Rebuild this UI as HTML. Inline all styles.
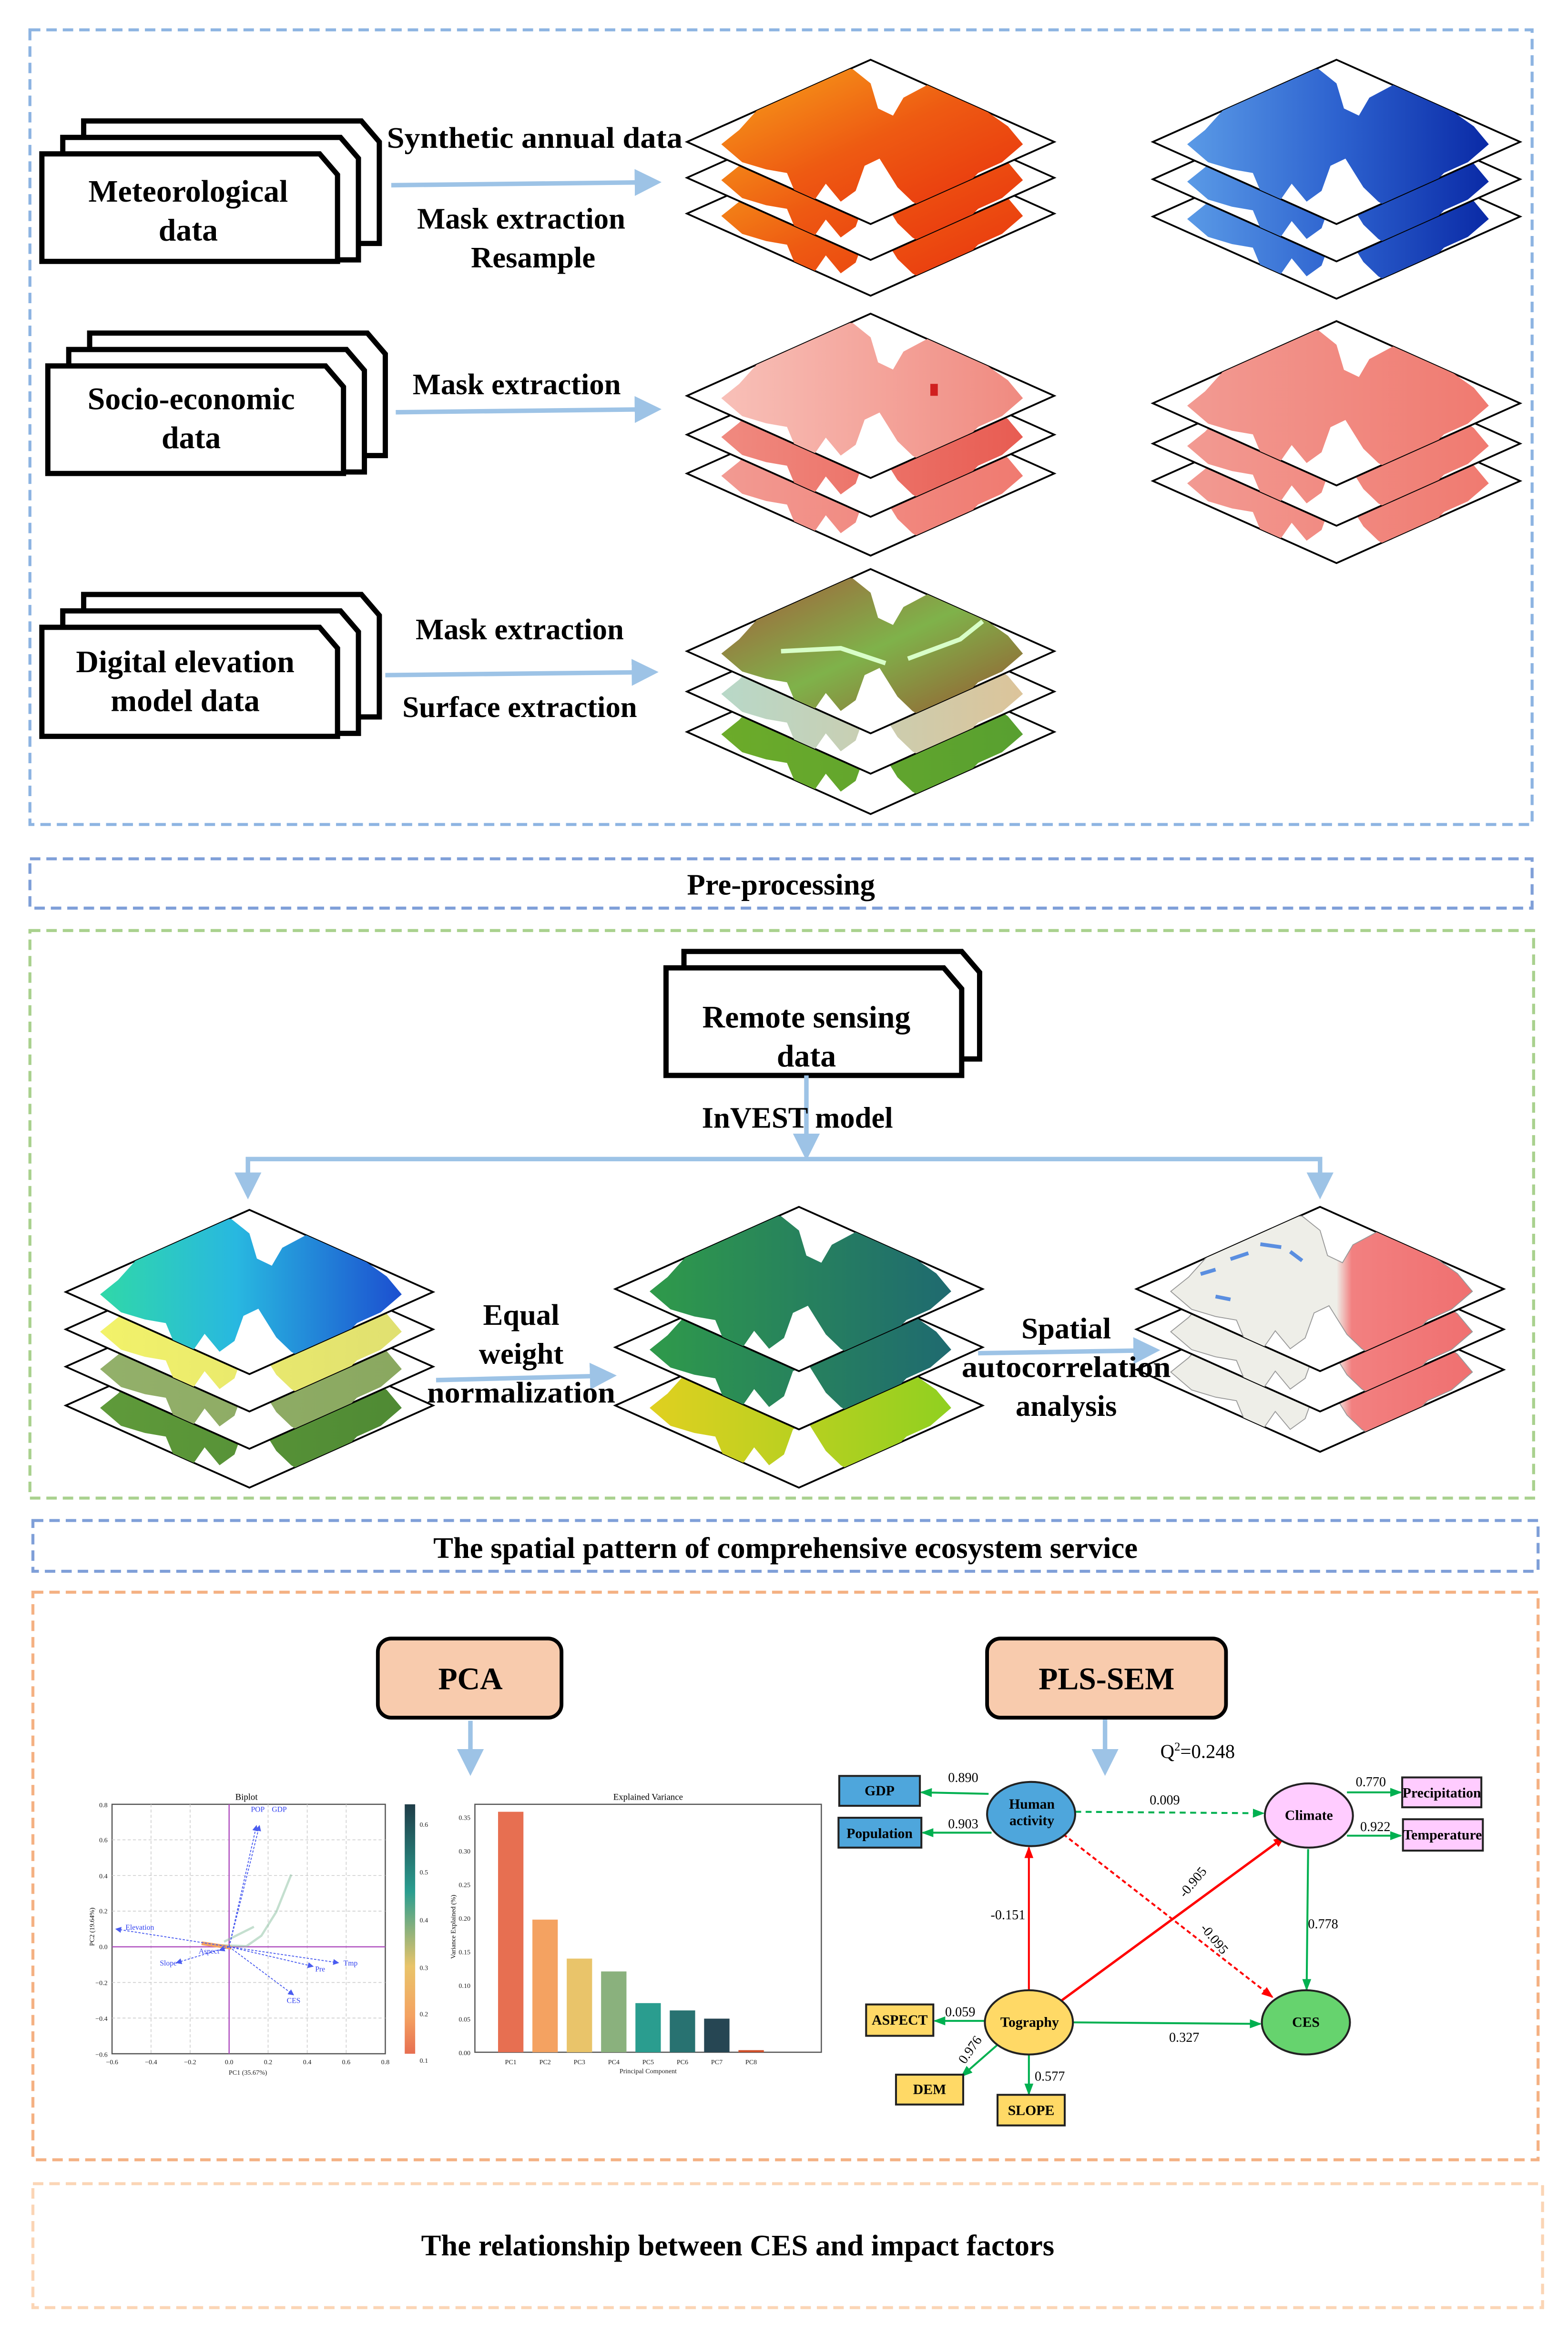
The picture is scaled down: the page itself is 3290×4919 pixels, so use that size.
<!DOCTYPE html>
<html><head><meta charset="utf-8"><style>
html,body{margin:0;padding:0;background:#fff}
svg{display:block}
text{font-family:"Liberation Serif",serif}
.b{font-weight:bold}
</style></head><body>
<svg width="3290" height="4919" viewBox="0 0 1050 1570" xmlns="http://www.w3.org/2000/svg">
<defs>
<clipPath id="dc"><polygon points="0,-55 123,0 0,55 -123,0"/></clipPath>
<path id="blob" d="M-100,1.6 L-88,-8 L-75,-22.4 L-58,-32 L-45,-39.2 L-30,-48.8 L-12,-48.8 L0,-39.2 L5,-22.4 L15,-17.6 L22,-29.6 L40,-39.2 L60,-32 L75,-22.4 L92,-10.4 L102,1.6 L88,13.6 L72,20.8 L58,35.2 L40,47.2 L28,40 L18,30.4 L6,11.2 L-4,16 L-10,32.8 L-20,40 L-30,28 L-40,42.4 L-50,35.2 L-56,20.8 L-70,18.4 L-86,13.6 Z"/>
<linearGradient id="gOr" x1="0" y1="0" x2="1" y2="1"><stop offset="0" stop-color="#f7a21a"/><stop offset="0.5" stop-color="#ee5a12"/><stop offset="1" stop-color="#e8300e"/></linearGradient>
<linearGradient id="gBl" x1="0" y1="0" x2="1" y2="0"><stop offset="0" stop-color="#5a9ae6"/><stop offset="0.5" stop-color="#2d62cf"/><stop offset="1" stop-color="#0a2aa6"/></linearGradient>
<linearGradient id="gPk1" x1="0" y1="0" x2="1" y2="0"><stop offset="0" stop-color="#f8c0b8"/><stop offset="1" stop-color="#f08a80"/></linearGradient>
<linearGradient id="gPk2" x1="0" y1="0" x2="1" y2="0"><stop offset="0" stop-color="#f08a80"/><stop offset="1" stop-color="#e85c52"/></linearGradient>
<linearGradient id="gPk3" x1="0" y1="0" x2="1" y2="0"><stop offset="0" stop-color="#f29a92"/><stop offset="1" stop-color="#f07a70"/></linearGradient>
<linearGradient id="gBr" x1="0" y1="0" x2="1" y2="1"><stop offset="0" stop-color="#a55a3a"/><stop offset="0.5" stop-color="#7fb24a"/><stop offset="1" stop-color="#9a5230"/></linearGradient>
<linearGradient id="gBe" x1="0" y1="0" x2="1" y2="0"><stop offset="0" stop-color="#b8d8c8"/><stop offset="1" stop-color="#dcc49a"/></linearGradient>
<linearGradient id="gGr" x1="0" y1="0" x2="1" y2="0"><stop offset="0" stop-color="#6cab2a"/><stop offset="1" stop-color="#58a030"/></linearGradient>
<linearGradient id="gCy" x1="0" y1="0" x2="1" y2="0"><stop offset="0" stop-color="#30d8a8"/><stop offset="0.45" stop-color="#28b8e0"/><stop offset="1" stop-color="#1c4fd0"/></linearGradient>
<linearGradient id="gYe" x1="0" y1="0" x2="1" y2="0"><stop offset="0" stop-color="#f2f26a"/><stop offset="1" stop-color="#e0e070"/></linearGradient>
<linearGradient id="gOl" x1="0" y1="0" x2="1" y2="0"><stop offset="0" stop-color="#93b06a"/><stop offset="1" stop-color="#8aa860"/></linearGradient>
<linearGradient id="gDg" x1="0" y1="0" x2="1" y2="0"><stop offset="0" stop-color="#5f9a3a"/><stop offset="1" stop-color="#4f8a34"/></linearGradient>
<linearGradient id="gTe" x1="0" y1="0" x2="1" y2="0"><stop offset="0" stop-color="#2f9a4a"/><stop offset="1" stop-color="#1f6a70"/></linearGradient>
<linearGradient id="gLy" x1="0" y1="0" x2="1" y2="0"><stop offset="0" stop-color="#e0d020"/><stop offset="1" stop-color="#90d020"/></linearGradient>
<linearGradient id="gLg" x1="0" y1="0" x2="1" y2="0"><stop offset="0" stop-color="#eeeee8"/><stop offset="0.55" stop-color="#eeeee8"/><stop offset="0.6" stop-color="#f28080"/><stop offset="1" stop-color="#f07070"/></linearGradient>
<linearGradient id="gCb" x1="0" y1="0" x2="0" y2="1"><stop offset="0" stop-color="#1f3d48"/><stop offset="0.35" stop-color="#2a9d8f"/><stop offset="0.65" stop-color="#e9c46a"/><stop offset="0.85" stop-color="#f4a261"/><stop offset="1" stop-color="#e76f51"/></linearGradient>
<marker id="ab" markerWidth="6" markerHeight="6" refX="5" refY="3" orient="auto" markerUnits="strokeWidth"><path d="M0,0 L6,3 L0,6 Z" fill="#9dc3e6"/></marker>
<marker id="ag" markerWidth="8" markerHeight="8" refX="7" refY="4" orient="auto" markerUnits="userSpaceOnUse"><path d="M0,1 L8,4 L0,7 Z" fill="#00b050"/></marker>
<marker id="ar" markerWidth="8" markerHeight="8" refX="7" refY="4" orient="auto" markerUnits="userSpaceOnUse"><path d="M0,1 L8,4 L0,7 Z" fill="#ff0000"/></marker>
<marker id="ap" markerWidth="4" markerHeight="4" refX="3.5" refY="2" orient="auto" markerUnits="userSpaceOnUse"><path d="M0,0 L4,2 L0,4 Z" fill="#4a5cf0"/></marker>
</defs>

<g fill="none" stroke-width="2" stroke-dasharray="7,4">
<rect x="20" y="20" width="1006" height="532" stroke="#8db4e2"/>
<rect x="20" y="575" width="1006" height="33" stroke="#7f9fd8"/>
<rect x="20" y="623" width="1007" height="380" stroke="#a9d18e"/>
<rect x="22" y="1018" width="1008" height="34" stroke="#7f9fd8"/>
<rect x="22" y="1066" width="1008" height="380" stroke="#f4b183"/>
<rect x="22" y="1462" width="1011" height="83" stroke="#fbd5b5"/>
</g>
<text x="523" y="599" font-size="20" class="b" text-anchor="middle">Pre-processing</text>
<text x="526" y="1043" font-size="20" class="b" text-anchor="middle">The spatial pattern of comprehensive ecosystem service</text>
<text x="494" y="1510" font-size="20" class="b" text-anchor="middle">The relationship between CES and impact factors</text>

<g fill="#fff" stroke="#000" stroke-width="3.5">
<path d="M56,81 h186 l12,14 v68 h-198 Z"/><path d="M42,92 h186 l12,14 v68 h-198 Z"/><path d="M28,103 h186 l12,14 v58 h-198 Z"/>
<path d="M60,223 h186 l12,14 v68 h-198 Z"/><path d="M46,234 h186 l12,14 v68 h-198 Z"/><path d="M32,245 h186 l12,14 v58 h-198 Z"/>
<path d="M56,398 h186 l12,14 v68 h-198 Z"/><path d="M42,409 h186 l12,14 v68 h-198 Z"/><path d="M28,420 h186 l12,14 v59 h-198 Z"/>
<path d="M458,637 h186 l12,14 v58 h-198 Z"/><path d="M446,648 h186 l12,14 v58 h-198 Z"/>
</g>
<g font-size="21" class="b" text-anchor="middle">
<text x="126" y="135">Meteorological</text><text x="126" y="161">data</text>
<text x="128" y="274">Socio-economic</text><text x="128" y="300">data</text>
<text x="124" y="450">Digital elevation</text><text x="124" y="476">model data</text>
<text x="540" y="688">Remote sensing</text><text x="540" y="714">data</text>
</g>

<g stroke="#9dc3e6" stroke-width="3" fill="none" marker-end="url(#ab)">
<line x1="262" y1="124" x2="440" y2="122"/>
<line x1="265" y1="276" x2="440" y2="274"/>
<line x1="258" y1="452" x2="438" y2="450"/>
<line x1="540" y1="720" x2="540" y2="774"/>
<line x1="292" y1="924" x2="410" y2="921"/>
<line x1="655" y1="906" x2="774" y2="904"/>
<polyline points="540,776 166,776 166,800"/>
<polyline points="540,776 884,776 884,800"/>
<line x1="315" y1="1152" x2="315" y2="1186"/>
<line x1="740" y1="1150" x2="740" y2="1186"/>
</g>

<g stroke="#000" stroke-width="1.2">
<g transform="translate(583,143)"><polygon points="0,-55 123,0 0,55 -123,0" fill="#fff"/><use href="#blob" fill="url(#gOr)" stroke="none" clip-path="url(#dc)"/></g>
<g transform="translate(583,119)"><polygon points="0,-55 123,0 0,55 -123,0" fill="#fff"/><use href="#blob" fill="url(#gOr)" stroke="none" clip-path="url(#dc)"/></g>
<g transform="translate(583,95)"><polygon points="0,-55 123,0 0,55 -123,0" fill="#fff"/><use href="#blob" fill="url(#gOr)" stroke="none" clip-path="url(#dc)"/></g>
<g transform="translate(895,145)"><polygon points="0,-55 123,0 0,55 -123,0" fill="#fff"/><use href="#blob" fill="url(#gBl)" stroke="none" clip-path="url(#dc)"/></g>
<g transform="translate(895,120)"><polygon points="0,-55 123,0 0,55 -123,0" fill="#fff"/><use href="#blob" fill="url(#gBl)" stroke="none" clip-path="url(#dc)"/></g>
<g transform="translate(895,95)"><polygon points="0,-55 123,0 0,55 -123,0" fill="#fff"/><use href="#blob" fill="url(#gBl)" stroke="none" clip-path="url(#dc)"/></g>
<g transform="translate(583,317)"><polygon points="0,-55 123,0 0,55 -123,0" fill="#fff"/><use href="#blob" fill="url(#gPk3)" stroke="none" clip-path="url(#dc)"/></g>
<g transform="translate(583,291)"><polygon points="0,-55 123,0 0,55 -123,0" fill="#fff"/><use href="#blob" fill="url(#gPk2)" stroke="none" clip-path="url(#dc)"/></g>
<g transform="translate(583,265)"><polygon points="0,-55 123,0 0,55 -123,0" fill="#fff"/><use href="#blob" fill="url(#gPk1)" stroke="none" clip-path="url(#dc)"/><rect x="40" y="-8" width="5" height="8" fill="#d02020" stroke="none"/></g>
<g transform="translate(895,322)"><polygon points="0,-55 123,0 0,55 -123,0" fill="#fff"/><use href="#blob" fill="url(#gPk3)" stroke="none" clip-path="url(#dc)"/></g>
<g transform="translate(895,297)"><polygon points="0,-55 123,0 0,55 -123,0" fill="#fff"/><use href="#blob" fill="url(#gPk3)" stroke="none" clip-path="url(#dc)"/></g>
<g transform="translate(895,270)"><polygon points="0,-55 123,0 0,55 -123,0" fill="#fff"/><use href="#blob" fill="url(#gPk3)" stroke="none" clip-path="url(#dc)"/></g>
<g transform="translate(583,490)"><polygon points="0,-55 123,0 0,55 -123,0" fill="#fff"/><use href="#blob" fill="url(#gGr)" stroke="none" clip-path="url(#dc)"/></g>
<g transform="translate(583,463)"><polygon points="0,-55 123,0 0,55 -123,0" fill="#fff"/><use href="#blob" fill="url(#gBe)" stroke="none" clip-path="url(#dc)"/></g>
<g transform="translate(583,436)"><polygon points="0,-55 123,0 0,55 -123,0" fill="#fff"/><use href="#blob" fill="url(#gBr)" stroke="none" clip-path="url(#dc)"/><path d="M-60,0 L-20,-2 L10,8 M25,5 L60,-8 L75,-20" stroke="#d8ffc8" stroke-width="3" fill="none"/></g>
<g transform="translate(167,941)"><polygon points="0,-55 123,0 0,55 -123,0" fill="#fff"/><use href="#blob" fill="url(#gDg)" stroke="none" clip-path="url(#dc)"/></g>
<g transform="translate(167,915)"><polygon points="0,-55 123,0 0,55 -123,0" fill="#fff"/><use href="#blob" fill="url(#gOl)" stroke="none" clip-path="url(#dc)"/></g>
<g transform="translate(167,890)"><polygon points="0,-55 123,0 0,55 -123,0" fill="#fff"/><use href="#blob" fill="url(#gYe)" stroke="none" clip-path="url(#dc)"/></g>
<g transform="translate(167,865)"><polygon points="0,-55 123,0 0,55 -123,0" fill="#fff"/><use href="#blob" fill="url(#gCy)" stroke="none" clip-path="url(#dc)"/></g>
<g transform="translate(535,941)"><polygon points="0,-55 123,0 0,55 -123,0" fill="#fff"/><use href="#blob" fill="url(#gLy)" stroke="none" clip-path="url(#dc)"/></g>
<g transform="translate(535,902)"><polygon points="0,-55 123,0 0,55 -123,0" fill="#fff"/><use href="#blob" fill="url(#gTe)" stroke="none" clip-path="url(#dc)"/></g>
<g transform="translate(535,863)"><polygon points="0,-55 123,0 0,55 -123,0" fill="#fff"/><use href="#blob" fill="url(#gTe)" stroke="none" clip-path="url(#dc)"/></g>
<g transform="translate(884,917)"><polygon points="0,-55 123,0 0,55 -123,0" fill="#fff"/><use href="#blob" fill="url(#gLg)" stroke="#999" stroke-width="0.6" clip-path="url(#dc)"/></g>
<g transform="translate(884,890)"><polygon points="0,-55 123,0 0,55 -123,0" fill="#fff"/><use href="#blob" fill="url(#gLg)" stroke="#999" stroke-width="0.6" clip-path="url(#dc)"/></g>
<g transform="translate(884,863)"><polygon points="0,-55 123,0 0,55 -123,0" fill="#fff"/><use href="#blob" fill="url(#gLg)" stroke="#999" stroke-width="0.6" clip-path="url(#dc)"/><path d="M-80,-10 l10,-3 M-60,-20 l12,-4 M-40,-30 l14,2 M-20,-25 l8,6 M-70,5 l10,2" stroke="#5a8ee0" stroke-width="2.5"/></g>
</g>

<g font-size="20" class="b" text-anchor="middle">
<text x="358" y="99" textLength="198" lengthAdjust="spacingAndGlyphs">Synthetic annual data</text>
<text x="349" y="153">Mask extraction</text><text x="357" y="179">Resample</text>
<text x="346" y="264">Mask extraction</text>
<text x="348" y="428">Mask extraction</text><text x="348" y="480">Surface extraction</text>
<text x="534" y="755">InVEST model</text>
<text x="349" y="887">Equal</text><text x="349" y="913">weight</text><text x="349" y="939" textLength="126" lengthAdjust="spacingAndGlyphs">normalization</text>
<text x="714" y="896">Spatial</text><text x="714" y="922" textLength="140" lengthAdjust="spacingAndGlyphs">autocorrelation</text><text x="714" y="948">analysis</text>
</g>

<rect x="253" y="1097" width="123" height="53" rx="9" fill="#f8cbad" stroke="#000" stroke-width="2.5"/>
<text x="315" y="1131" font-size="21" class="b" text-anchor="middle">PCA</text>
<rect x="661" y="1097" width="160" height="53" rx="9" fill="#f8cbad" stroke="#000" stroke-width="2.5"/>
<text x="741" y="1131" font-size="21" class="b" text-anchor="middle">PLS-SEM</text>

<g font-family="Liberation Sans, sans-serif">
<text x="165" y="1205" font-size="6" text-anchor="middle" font-family="Liberation Sans, sans-serif">Biplot</text>
<rect x="75" y="1208" width="183" height="167" fill="#fff" stroke="#555" stroke-width="0.8"/>
<g stroke="#ccc" stroke-width="0.5" stroke-dasharray="2,1.5">
<line x1="101.1" y1="1208" x2="101.1" y2="1375"/><line x1="127.3" y1="1208" x2="127.3" y2="1375"/><line x1="179.5" y1="1208" x2="179.5" y2="1375"/><line x1="205.7" y1="1208" x2="205.7" y2="1375"/><line x1="231.8" y1="1208" x2="231.8" y2="1375"/>
<line x1="75" y1="1231.8" x2="258" y2="1231.8"/><line x1="75" y1="1255.7" x2="258" y2="1255.7"/><line x1="75" y1="1279.5" x2="258" y2="1279.5"/><line x1="75" y1="1327.3" x2="258" y2="1327.3"/><line x1="75" y1="1351.1" x2="258" y2="1351.1"/>
</g>
<line x1="153.4" y1="1208" x2="153.4" y2="1375" stroke="#b050c0" stroke-width="0.8"/>
<line x1="75" y1="1303.4" x2="258" y2="1303.4" stroke="#b050c0" stroke-width="0.8"/>
<path d="M140,1302 L165,1303 L175,1296 L185,1280 L195,1255 M150,1300 L170,1290" stroke="#8ac0a0" stroke-width="1.5" fill="none" opacity="0.5"/>
<path d="M135,1301 L155,1304" stroke="#f4a261" stroke-width="2.5"/>
<g stroke="#4a5cf0" stroke-width="0.6" stroke-dasharray="1.5,1" marker-end="url(#ap)" fill="none">
<line x1="153.4" y1="1303.4" x2="171.7" y2="1222.3"/><line x1="153.4" y1="1303.4" x2="173.7" y2="1222.3"/>
<line x1="153.4" y1="1303.4" x2="77.6" y2="1291.5"/><line x1="153.4" y1="1303.4" x2="118.1" y2="1314.1"/>
<line x1="153.4" y1="1303.4" x2="146.9" y2="1305.8"/><line x1="153.4" y1="1303.4" x2="226.6" y2="1314.1"/>
<line x1="153.4" y1="1303.4" x2="209.6" y2="1316.5"/><line x1="153.4" y1="1303.4" x2="196.5" y2="1335.6"/>
</g>
<g font-size="5" fill="#3040f0" font-family="Liberation Sans, sans-serif">
<text x="168" y="1213">POP</text><text x="182" y="1213">GDP</text><text x="84" y="1292">Elevation</text>
<text x="107" y="1316">Slope</text><text x="133" y="1308">Aspect</text><text x="230" y="1316">Tmp</text>
<text x="211" y="1320">Pre</text><text x="192" y="1341">CES</text>
</g>
<g font-size="4.5" fill="#222" text-anchor="middle">
<text x="75" y="1382">−0.6</text><text x="101.1" y="1382">−0.4</text><text x="127.3" y="1382">−0.2</text><text x="153.4" y="1382">0.0</text><text x="179.5" y="1382">0.2</text><text x="205.7" y="1382">0.4</text><text x="231.8" y="1382">0.6</text><text x="258" y="1382">0.8</text>
<text x="166" y="1389">PC1 (35.67%)</text>
</g>
<g font-size="4.5" fill="#222" text-anchor="end">
<text x="72" y="1210">0.8</text><text x="72" y="1233.5">0.6</text><text x="72" y="1257.5">0.4</text><text x="72" y="1281">0.2</text><text x="72" y="1305">0.0</text><text x="72" y="1329">−0.2</text><text x="72" y="1353">−0.4</text><text x="72" y="1377">−0.6</text>
</g>
<text x="0" y="0" font-size="4.5" text-anchor="middle" transform="translate(63,1290) rotate(-90)">PC2 (19.64%)</text>
<rect x="271" y="1208" width="7" height="167" fill="url(#gCb)"/>
<g font-size="4.5" fill="#222">
<text x="281" y="1223">0.6</text><text x="281" y="1255">0.5</text><text x="281" y="1287">0.4</text><text x="281" y="1319">0.3</text><text x="281" y="1350">0.2</text><text x="281" y="1381">0.1</text>
</g>
<text x="434" y="1205" font-size="6" text-anchor="middle">Explained Variance</text>
<rect x="318" y="1208" width="232" height="166" fill="#fff" stroke="#555" stroke-width="0.8"/>
<rect x="333.5" y="1213" width="17" height="161" fill="#e76f51"/>
<rect x="356.5" y="1285.2" width="17" height="88.8" fill="#f4a261"/>
<rect x="379.5" y="1311.3" width="17" height="62.7" fill="#e9c46a"/>
<rect x="402.5" y="1319.9" width="17" height="54.1" fill="#8ab17d"/>
<rect x="425.5" y="1341.1" width="17" height="32.9" fill="#2a9d8f"/>
<rect x="448.5" y="1346" width="17" height="28" fill="#287271"/>
<rect x="471.5" y="1351.5" width="17" height="22.5" fill="#264653"/>
<rect x="494.5" y="1372.6" width="17" height="1.4" fill="#d0502a"/>
<g font-size="4.5" fill="#222" text-anchor="middle">
<text x="342" y="1382">PC1</text><text x="365" y="1382">PC2</text><text x="388" y="1382">PC3</text><text x="411" y="1382">PC4</text><text x="434" y="1382">PC5</text><text x="457" y="1382">PC6</text><text x="480" y="1382">PC7</text><text x="503" y="1382">PC8</text>
<text x="434" y="1388">Principal Component</text>
</g>
<g font-size="4.5" fill="#222" text-anchor="end">
<text x="315" y="1376">0.00</text><text x="315" y="1353.5">0.05</text><text x="315" y="1331">0.10</text><text x="315" y="1308.5">0.15</text><text x="315" y="1286">0.20</text><text x="315" y="1263.5">0.25</text><text x="315" y="1241">0.30</text><text x="315" y="1218.5">0.35</text>
</g>
<text x="0" y="0" font-size="4.5" text-anchor="middle" transform="translate(305,1290) rotate(-90)">Variance Explained (%)</text>
</g>

<text x="802" y="1177" font-size="13" text-anchor="middle">Q<tspan font-size="8" dy="-5">2</tspan><tspan dy="5">=0.248</tspan></text>
<g stroke-width="1.3" fill="none">
<line x1="662" y1="1201" x2="617" y2="1200" stroke="#00b050" marker-end="url(#ag)"/>
<line x1="664" y1="1227" x2="618" y2="1227" stroke="#00b050" marker-end="url(#ag)"/>
<line x1="720" y1="1213" x2="846" y2="1214" stroke="#00b050" stroke-dasharray="4,3" marker-end="url(#ag)"/>
<line x1="902" y1="1200" x2="938" y2="1200" stroke="#00b050" marker-end="url(#ag)"/>
<line x1="902" y1="1229" x2="938" y2="1229" stroke="#00b050" marker-end="url(#ag)"/>
<line x1="876" y1="1238" x2="875" y2="1332" stroke="#00b050" marker-end="url(#ag)"/>
<line x1="689" y1="1332" x2="689" y2="1237" stroke="#ff0000" marker-end="url(#ar)"/>
<line x1="710" y1="1340" x2="860" y2="1230" stroke="#ff0000" stroke-width="1.6" marker-end="url(#ar)"/>
<line x1="712" y1="1228" x2="852" y2="1337" stroke="#ff0000" stroke-dasharray="3,2" marker-end="url(#ar)"/>
<line x1="719" y1="1354" x2="844" y2="1355" stroke="#00b050" marker-end="url(#ag)"/>
<line x1="659" y1="1353" x2="626" y2="1353" stroke="#00b050" marker-end="url(#ag)"/>
<line x1="668" y1="1369" x2="644" y2="1390" stroke="#00b050" marker-end="url(#ag)"/>
<line x1="689" y1="1376" x2="689" y2="1402" stroke="#00b050" marker-end="url(#ag)"/>
</g>
<g stroke="#222" stroke-width="1.3">
<ellipse cx="690.5" cy="1214.5" rx="29.5" ry="21.5" fill="#4ea6dc"/>
<ellipse cx="876.5" cy="1215.5" rx="29.5" ry="21.5" fill="#ffccff"/>
<ellipse cx="689" cy="1354" rx="29.5" ry="21.5" fill="#ffd966"/>
<ellipse cx="874.5" cy="1354" rx="29.5" ry="21.5" fill="#66d36e"/>
<rect x="562" y="1189" width="54" height="20" fill="#4ea6dc"/>
<rect x="561.5" y="1217" width="55.5" height="20" fill="#4ea6dc"/>
<rect x="939" y="1190" width="53" height="20" fill="#ffccff"/>
<rect x="939.5" y="1218" width="53.5" height="21" fill="#ffccff"/>
<rect x="580" y="1342" width="45" height="21" fill="#ffd966"/>
<rect x="600" y="1389" width="45" height="20" fill="#ffd966"/>
<rect x="668" y="1402.5" width="45" height="20.5" fill="#ffd966"/>
</g>
<g font-size="9.5" class="b" text-anchor="middle">
<text x="589" y="1202">GDP</text><text x="589" y="1230.5">Population</text>
<text x="965.5" y="1203.5">Precipitation</text><text x="966" y="1231.5">Temperature</text>
<text x="602.5" y="1355.5">ASPECT</text><text x="622.5" y="1402">DEM</text><text x="690.5" y="1416">SLOPE</text>
<text x="691" y="1211">Human</text><text x="691" y="1222">activity</text>
<text x="876.5" y="1218.5">Climate</text><text x="689.5" y="1357">Tography</text><text x="874.5" y="1357">CES</text>
</g>
<g font-size="9" text-anchor="middle">
<text x="645" y="1193">0.890</text><text x="645" y="1224">0.903</text><text x="780" y="1208">0.009</text>
<text x="918" y="1196">0.770</text><text x="921" y="1226">0.922</text>
<text x="675" y="1285">-0.151</text><text x="886" y="1291">0.778</text><text x="793" y="1367">0.327</text>
<text x="643" y="1350">0.059</text><text x="703" y="1393">0.577</text>
<text transform="translate(801,1262) rotate(-50)">-0.905</text>
<text transform="translate(811,1300) rotate(50)">-0.095</text>
<text transform="translate(652,1374) rotate(-55)">0.976</text>
</g>
</svg>
</body></html>
